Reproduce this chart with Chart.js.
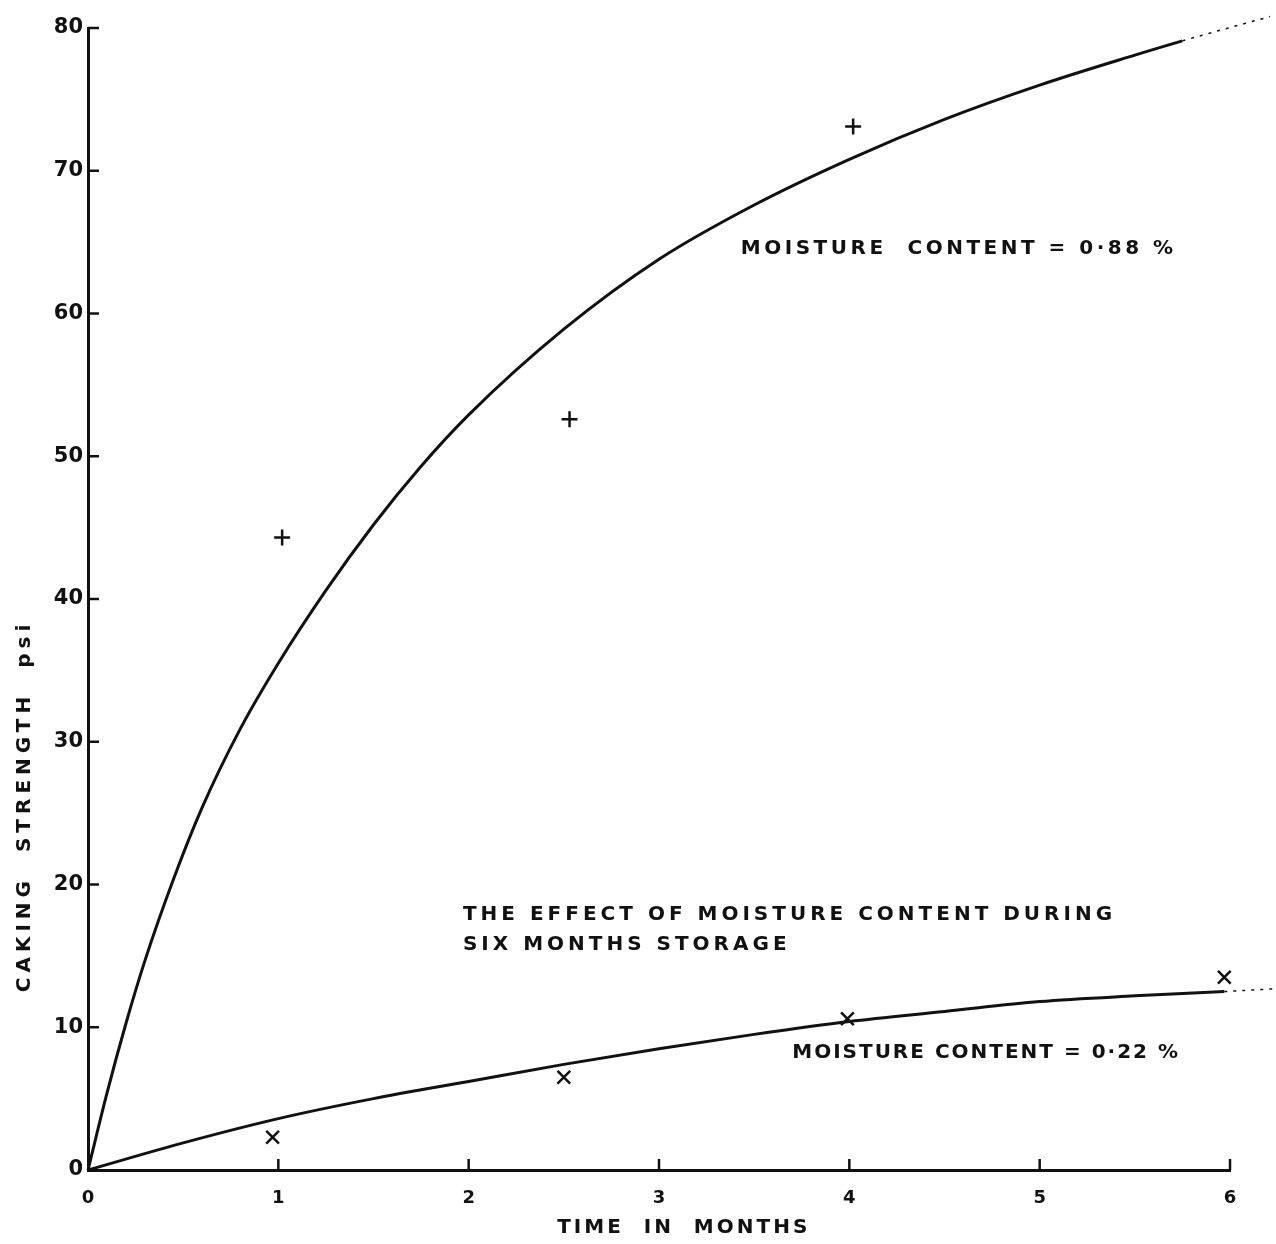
<!DOCTYPE html>
<html>
<head>
    <title>Caking Strength</title>
    <script src="https://cdn.jsdelivr.net/npm/chart.js"></script>
    <style>
        html, body { margin: 0; padding: 0; background: #fff; }
        #wrap { width: 1276px; height: 1244px; }
    </style>
</head>
<body>
    <div id="wrap"><canvas id="cakingChart" width="1276" height="1244"></canvas></div>

    <script>
        // fitted curve, 0.88 % moisture (months, psi)
        const highCurveX = [0, 0.1, 0.2, 0.3, 0.45, 0.6, 0.8, 1.0, 1.25, 1.5, 1.75, 2.0, 2.5, 3.0, 3.5, 4.0, 4.5, 5.0, 5.5, 5.75, 6.21];
        const highCurveY = [0, 5.4, 10.3, 14.7, 20.4, 25.4, 30.9, 35.5, 40.6, 45.2, 49.3, 52.9, 58.9, 63.8, 67.6, 70.8, 73.6, 76.0, 78.1, 79.1, 80.8];
        // measured points, 0.88 %
        const highPointsX = [1.02, 2.53, 4.02];
        const highPointsY = [44.3, 52.6, 73.1];

        // fitted curve, 0.22 % moisture
        const lowCurveX = [0, 0.5, 1, 1.5, 2, 2.5, 3, 3.5, 4, 4.5, 5, 5.5, 5.97, 6.24];
        const lowCurveY = [0, 1.9, 3.6, 5.0, 6.2, 7.4, 8.5, 9.5, 10.4, 11.1, 11.8, 12.2, 12.5, 12.7];
        // measured points, 0.22 %
        const lowPointsX = [0.97, 2.5, 3.99, 5.97];
        const lowPointsY = [2.3, 6.5, 10.6, 13.5];

        const monthTicks = [0, 1, 2, 3, 4, 5, 6];
        const psiTicks = [0, 10, 20, 30, 40, 50, 60, 70, 80];

        // text written on the plot, placed in data units
        const notes = [
            { text: 'MOISTURE  CONTENT = 0·88 %', x: 3.43, y: 64.5, spacing: 3.5 },
            { text: 'THE EFFECT OF MOISTURE CONTENT DURING', x: 1.97, y: 17.9, spacing: 4 },
            { text: 'SIX MONTHS STORAGE', x: 1.97, y: 15.8, spacing: 4 },
            { text: 'MOISTURE CONTENT = 0·22 %', x: 3.70, y: 8.2, spacing: 2 }
        ];
        const xTitle = 'TIME  IN  MONTHS';
        const yTitle = 'CAKING  STRENGTH  psi';

        const pairs = (xs, ys) => xs.map((x, i) => ({ x: x, y: ys[i] }));
        const ink = '#111';
        const font = '"DejaVu Sans", sans-serif';

        // the curves fade out to a broken line past the last month
        const brokenTail = {
            borderDash: c => c.p1.parsed.x > 6 ? [3, 6] : undefined,
            borderWidth: c => c.p1.parsed.x > 6 ? 1.5 : 3
        };

        // inward ticks like the hand-drawn axes, axis titles and the notes
        const paperMarks = {
            id: 'paperMarks',
            afterDatasetsDraw(chart) {
                const ctx = chart.ctx;
                const xs = chart.scales.x, ys = chart.scales.y;
                ctx.save();
                ctx.strokeStyle = ink;
                ctx.lineWidth = 2.5;
                psiTicks.slice(1).forEach(v => {
                    const py = ys.getPixelForValue(v);
                    ctx.beginPath();
                    ctx.moveTo(xs.left, py);
                    ctx.lineTo(xs.left + 11, py);
                    ctx.stroke();
                });
                monthTicks.slice(1).forEach(v => {
                    const px = xs.getPixelForValue(v);
                    ctx.beginPath();
                    ctx.moveTo(px, ys.bottom);
                    ctx.lineTo(px, ys.bottom - 11);
                    ctx.stroke();
                });

                ctx.fillStyle = ink;
                ctx.font = 'bold 20px ' + font;
                ctx.textBaseline = 'middle';
                ctx.textAlign = 'left';
                notes.forEach(n => {
                    ctx.letterSpacing = n.spacing + 'px';
                    ctx.fillText(n.text, xs.getPixelForValue(n.x), ys.getPixelForValue(n.y));
                });

                ctx.textAlign = 'center';
                ctx.letterSpacing = '3px';
                ctx.fillText(xTitle, xs.getPixelForValue(3.13), xs.bottom - 16);

                ctx.letterSpacing = '5px';
                ctx.translate(ys.left + 25, ys.getPixelForValue(25.5));
                ctx.rotate(-Math.PI / 2);
                ctx.fillText(yTitle, 0, 0);
                ctx.restore();
            }
        };

        const ctx = document.getElementById('cakingChart').getContext('2d');
        new Chart(ctx, {
            type: 'scatter',
            data: {
                datasets: [
                    {
                        data: pairs(highCurveX, highCurveY),
                        showLine: true,
                        borderColor: ink,
                        borderWidth: 3,
                        pointRadius: 0,
                        cubicInterpolationMode: 'monotone',
                        segment: brokenTail,
                        clip: false
                    },
                    {
                        data: pairs(lowCurveX, lowCurveY),
                        showLine: true,
                        borderColor: ink,
                        borderWidth: 3,
                        pointRadius: 0,
                        cubicInterpolationMode: 'monotone',
                        segment: brokenTail,
                        clip: false
                    },
                    {
                        data: pairs(highPointsX, highPointsY),
                        pointStyle: 'cross',
                        pointRadius: 8,
                        borderWidth: 2.5,
                        borderColor: ink,
                        clip: false
                    },
                    {
                        data: pairs(lowPointsX, lowPointsY),
                        pointStyle: 'crossRot',
                        pointRadius: 9,
                        borderWidth: 2.5,
                        borderColor: ink,
                        clip: false
                    }
                ]
            },
            options: {
                responsive: false,
                animation: false,
                layout: { padding: { top: 28, right: 46, left: 0, bottom: 0 } },
                plugins: {
                    legend: { display: false },
                    tooltip: { enabled: false }
                },
                scales: {
                    x: {
                        type: 'linear',
                        min: 0,
                        max: 6,
                        afterBuildTicks: s => { s.ticks = monthTicks.map(v => ({ value: v })); },
                        afterFit: s => { s.height = 74; },
                        grid: { drawOnChartArea: false, drawTicks: false },
                        border: { color: ink, width: 3 },
                        ticks: {
                            color: ink,
                            padding: 18,
                            font: { family: font, size: 18, weight: 'bold' }
                        }
                    },
                    y: {
                        type: 'linear',
                        min: 0,
                        max: 80,
                        afterBuildTicks: s => { s.ticks = psiTicks.map(v => ({ value: v })); },
                        afterFit: s => { s.width = 88; },
                        grid: { drawOnChartArea: false, drawTicks: false },
                        border: { color: ink, width: 3 },
                        ticks: {
                            color: ink,
                            padding: 5,
                            font: { family: font, size: 21, weight: 'bold' }
                        }
                    }
                }
            },
            plugins: [paperMarks]
        });
    </script>
</body>
</html>
